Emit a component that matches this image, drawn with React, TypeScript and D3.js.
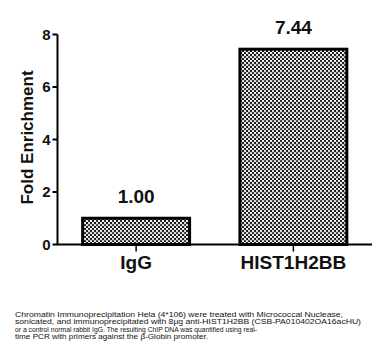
import React from "react";
import * as d3 from "d3";

const categories = ["IgG", "HIST1H2BB"];
const values = [1.0, 7.44];
const valueLabels = ["1.00", "7.44"];
const yTicks = [0, 2, 4, 6, 8];
const captionLines = [
  "Chromatin Immunoprecipitation Hela (4*106) were treated with Micrococcal Nuclease,",
  "sonicated, and immunoprecipitated with 8\u03bcg anti-HIST1H2BB (CSB-PA010402OA16acHU)",
  "or a control normal rabbit IgG. The resulting ChIP DNA was quantified using real-",
  "time PCR with primers against the \u03b2-Globin promoter.",
];
const captionWidths = [328, 346, 242, 193];

export default function App() {
  const W = 383, H = 360;
  const x0 = 57.5, x1 = 372, yTop = 34.5, yBot = 244.5;
  const y = d3.scaleLinear().domain([0, 8]).range([yBot, yTop]);
  const x = d3.scaleBand<string>().domain(categories).range([x0, x1]).paddingInner(0.32).paddingOuter(0.16);
  const font = "Liberation Sans, Arial, sans-serif";
  const cells: [number, number][] = [];
  for (let i = 0; i < 4; i++) for (let j = 0; j < 4; j++) if ((i + j) % 2 === 0) cells.push([i * 2, j * 2]);
  return (
    <svg width={W} height={H} style={{ position: "absolute", left: 0, top: 0, background: "#fff" }}>
      <defs>
        <pattern id="chk" width="8" height="8" patternUnits="userSpaceOnUse">
          <rect width="8" height="8" fill="#f2f2f2" />
          {cells.map(([cx, cy]) => (
            <rect key={cx + "-" + cy} x={cx} y={cy} width="2" height="2" fill="#1a1a1a" />
          ))}
          <rect x="0" y="0" width="8" height="1" fill="#888" opacity="0.35" />
          <rect x="0" y="0" width="1" height="8" fill="#888" opacity="0.35" />
        </pattern>
      </defs>
      <rect width={W} height={H} fill="#fff" />
      {categories.map((c, i) => (
        <rect
          key={c}
          x={x(c)!}
          y={y(values[i])}
          width={x.bandwidth()}
          height={yBot - y(values[i])}
          fill="url(#chk)"
          stroke="#000"
          strokeWidth={3}
        />
      ))}
      <line x1={x0} x2={x0} y1={yTop} y2={yBot} stroke="#000" strokeWidth={2} />
      <line x1={x0 - 1} x2={x1} y1={yBot} y2={yBot} stroke="#000" strokeWidth={2} />
      {yTicks.map((t) => (
        <g key={t}>
          <line x1={x0 - 5} x2={x0} y1={y(t)} y2={y(t)} stroke="#000" strokeWidth={2} />
          <text x={x0 - 7} y={y(t)} dy="0.36em" textAnchor="end" fontFamily={font} fontWeight="bold" fontSize={15} fill="#111">
            {t}
          </text>
        </g>
      ))}
      {categories.map((c) => (
        <g key={c}>
          <line x1={x(c)! + x.bandwidth() / 2} x2={x(c)! + x.bandwidth() / 2} y1={yBot} y2={yBot + 7} stroke="#000" strokeWidth={1.5} />
          <text x={x(c)! + x.bandwidth() / 2} y={269} textAnchor="middle" fontFamily={font} fontWeight="bold" fontSize={19} fill="#111">
            {c}
          </text>
        </g>
      ))}
      {categories.map((c, i) => (
        <text key={c} x={x(c)! + x.bandwidth() / 2} y={y(values[i]) - 15} textAnchor="middle" fontFamily={font} fontWeight="bold" fontSize={19} fill="#111">
          {valueLabels[i]}
        </text>
      ))}
      <text transform={`translate(32.5,137.5) rotate(-90)`} textAnchor="middle" fontFamily={font} fontWeight="bold" fontSize={17} fill="#111">
        Fold Enrichment
      </text>
      {captionLines.map((l, i) => (
        <text key={i} x={15} y={317 + i * 7.4} fontFamily="Liberation Sans, Arial, sans-serif" fontSize={6.5} fill="#111" textLength={captionWidths[i]} lengthAdjust="spacingAndGlyphs">
          {l}
        </text>
      ))}
    </svg>
  );
}
